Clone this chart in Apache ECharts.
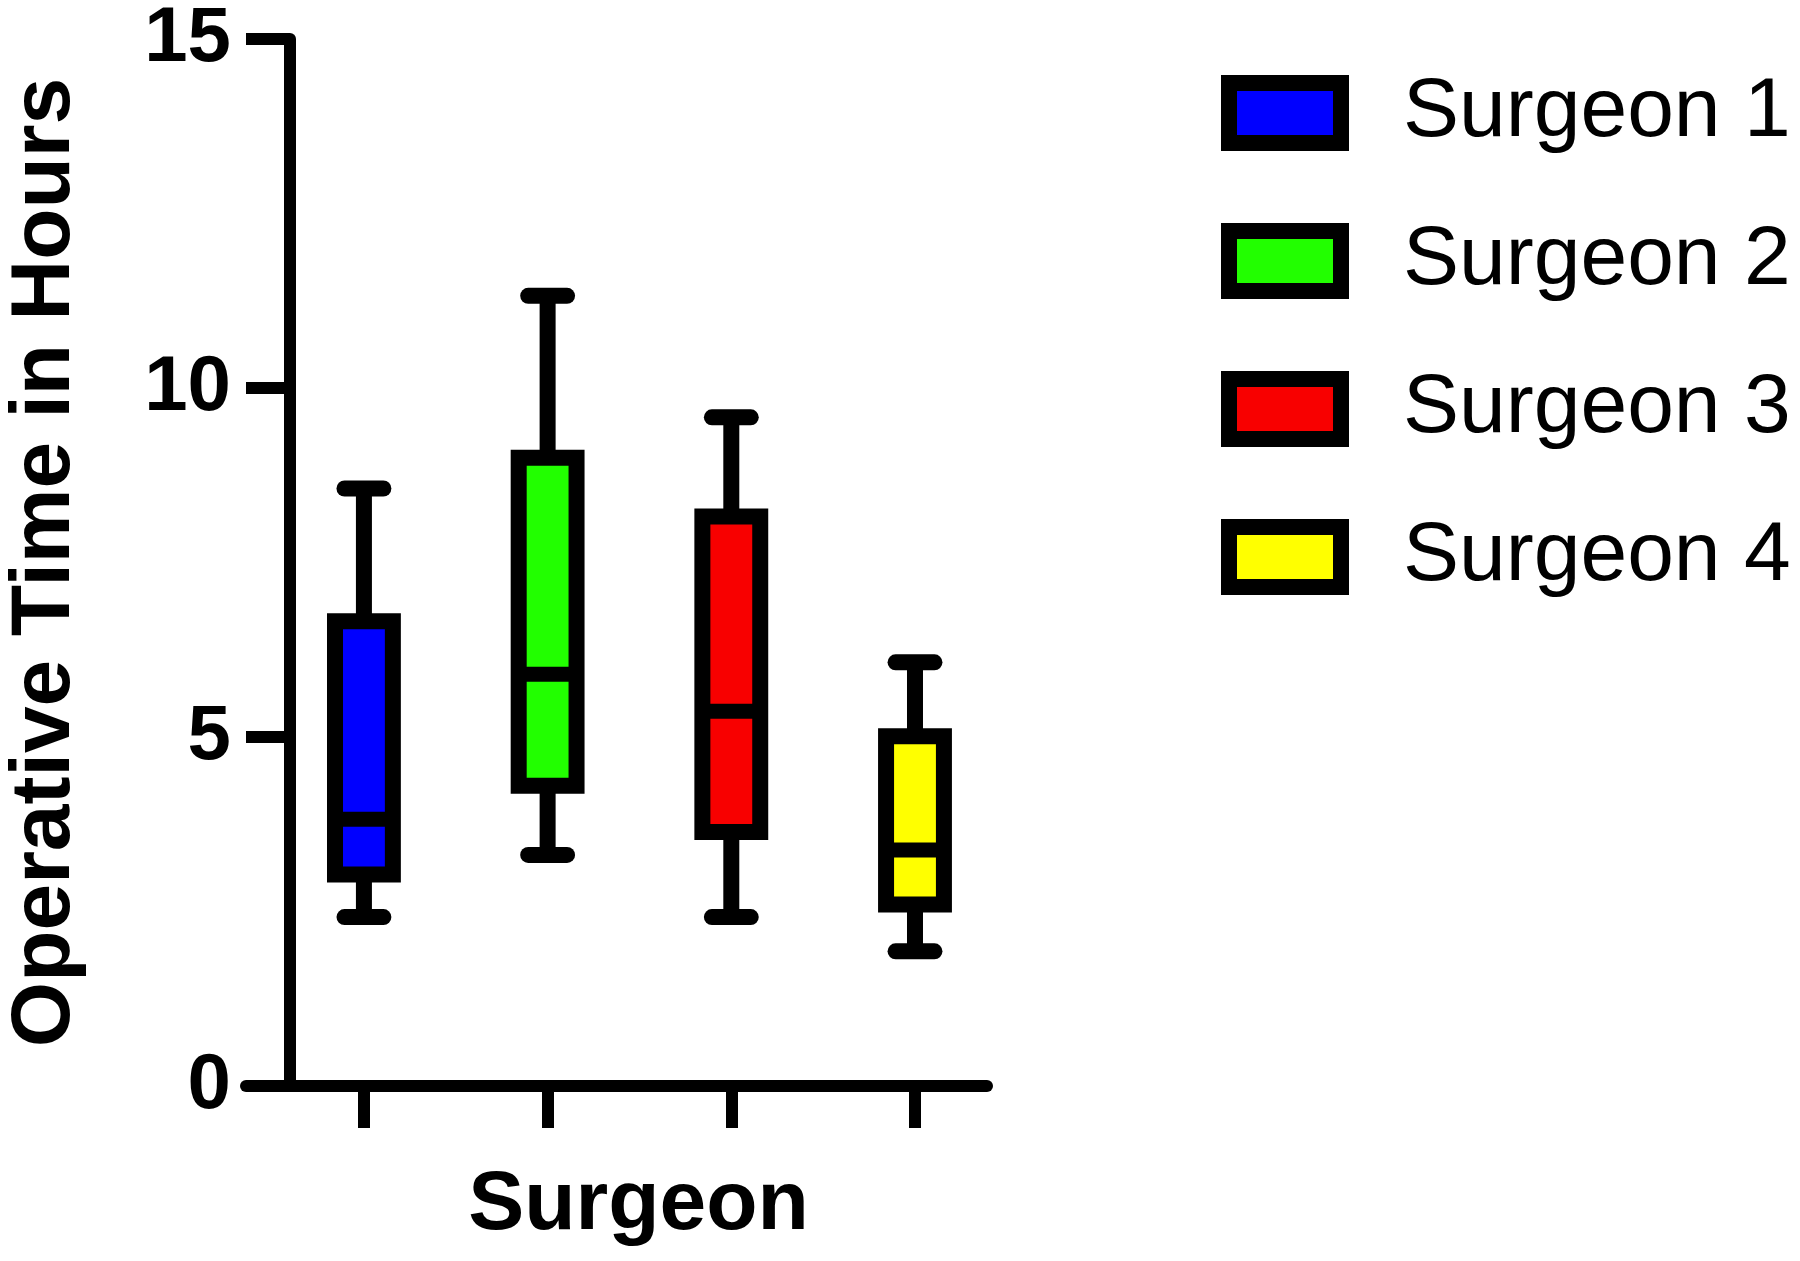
<!DOCTYPE html>
<html>
<head>
<meta charset="utf-8">
<script src="https://cdn.jsdelivr.net/npm/echarts@6/dist/echarts.min.js"></script>
<style>
  html, body { margin: 0; padding: 0; background: #fff; }
  #chart { width: 1800px; height: 1261px; }
</style>
</head>
<body>
<div id="chart"></div>
<script>
// values (hours)
const surgeons = ['Surgeon 1', 'Surgeon 2', 'Surgeon 3', 'Surgeon 4'];
const minValues = [2.42, 3.31, 2.42, 1.93];
const q1Values = [3.03, 4.30, 3.64, 2.60];
const medianValues = [3.82, 5.90, 5.37, 3.38];
const q3Values = [6.66, 9.00, 8.16, 5.01];
const maxValues = [8.56, 11.32, 9.58, 6.07];
const yTicks = [0, 5, 10, 15];
const boxColors = ['#0000ff', '#22ff00', '#f80000', '#ffff00'];

const FONT = '"Liberation Sans", Arial, sans-serif';
const BOX_WIDTH = 0.315; // in x-axis units

function renderBox(params, api) {
    const x = api.value(0);
    const lo = api.coord([x, api.value(1)]);
    const q1 = api.coord([x, api.value(2)]);
    const med = api.coord([x, api.value(3)]);
    const q3 = api.coord([x, api.value(4)]);
    const hi = api.coord([x, api.value(5)]);
    const boxW = api.size([BOX_WIDTH, 0])[0];
    const half = boxW / 2;
    const capHalf = boxW * 0.336;
    const cx = lo[0];
    const cap = { stroke: '#000', lineWidth: 16, lineCap: 'round' };
    return {
        type: 'group',
        children: [
            { type: 'line', shape: { x1: cx, y1: lo[1], x2: cx, y2: hi[1] }, style: { stroke: '#000', lineWidth: 16 } },
            { type: 'line', shape: { x1: cx - capHalf, y1: lo[1], x2: cx + capHalf, y2: lo[1] }, style: cap },
            { type: 'line', shape: { x1: cx - capHalf, y1: hi[1], x2: cx + capHalf, y2: hi[1] }, style: cap },
            {
                type: 'rect',
                shape: { x: cx - half, y: q3[1], width: boxW, height: q1[1] - q3[1] },
                style: { fill: api.visual('color'), stroke: '#000', lineWidth: 16 }
            },
            { type: 'line', shape: { x1: cx - half, y1: med[1], x2: cx + half, y2: med[1] }, style: { stroke: '#000', lineWidth: 15 } }
        ]
    };
}

const series = surgeons.map(function (name, i) {
    return {
        name: name,
        type: 'custom',
        renderItem: renderBox,
        itemStyle: { color: boxColors[i] },
        encode: { x: 0, y: [1, 2, 3, 4, 5] },
        data: [[i + 1, minValues[i], q1Values[i], medianValues[i], q3Values[i], maxValues[i]]]
    };
});

const chart = echarts.init(document.getElementById('chart'));
chart.setOption({
    animation: false,
    grid: { left: 246, right: 813, top: 39, bottom: 175, containLabel: false },
    xAxis: {
        type: 'value',
        min: 0.358,
        max: 4.392,
        name: 'Surgeon',
        nameLocation: 'middle',
        nameGap: 78,
        nameTextStyle: {
            fontFamily: FONT, fontSize: 84, fontWeight: 'bold', color: '#000',
            padding: [0, 0, 0, 44]
        },
        axisLine: { show: true, lineStyle: { color: '#000', width: 12 } },
        axisTick: {
            show: true, length: 42, inside: false,
            customValues: [1, 2, 3, 4],
            lineStyle: { color: '#000', width: 12 }
        },
        axisLabel: { show: false },
        splitLine: { show: false }
    },
    yAxis: {
        type: 'value',
        min: 0,
        max: 15,
        interval: 5,
        offset: -44,
        name: 'Operative Time in Hours',
        nameLocation: 'middle',
        nameGap: 202,
        nameRotate: 90,
        nameTextStyle: { fontFamily: FONT, fontSize: 84, fontWeight: 'bold', color: '#000' },
        axisLine: { show: true, lineStyle: { color: '#000', width: 12 } },
        axisTick: { show: true, length: 44, inside: false, lineStyle: { color: '#000', width: 12 } },
        axisLabel: {
            show: true, margin: 59,
            customValues: yTicks,
            fontFamily: FONT, fontSize: 78, fontWeight: 'bold', color: '#000'
        },
        splitLine: { show: false }
    },
    legend: {
        orient: 'vertical',
        left: 1221,
        top: 71,
        padding: 0,
        itemWidth: 112,
        itemHeight: 60,
        itemGap: 64,
        selectedMode: false,
        icon: 'rect',
        itemStyle: { borderColor: '#000', borderWidth: 16 },
        textStyle: {
            fontFamily: FONT, fontSize: 84, color: '#000',
            lineHeight: 60, padding: [0, 0, 0, 57]
        },
        data: surgeons
    },
    series: series
});
</script>
</body>
</html>
